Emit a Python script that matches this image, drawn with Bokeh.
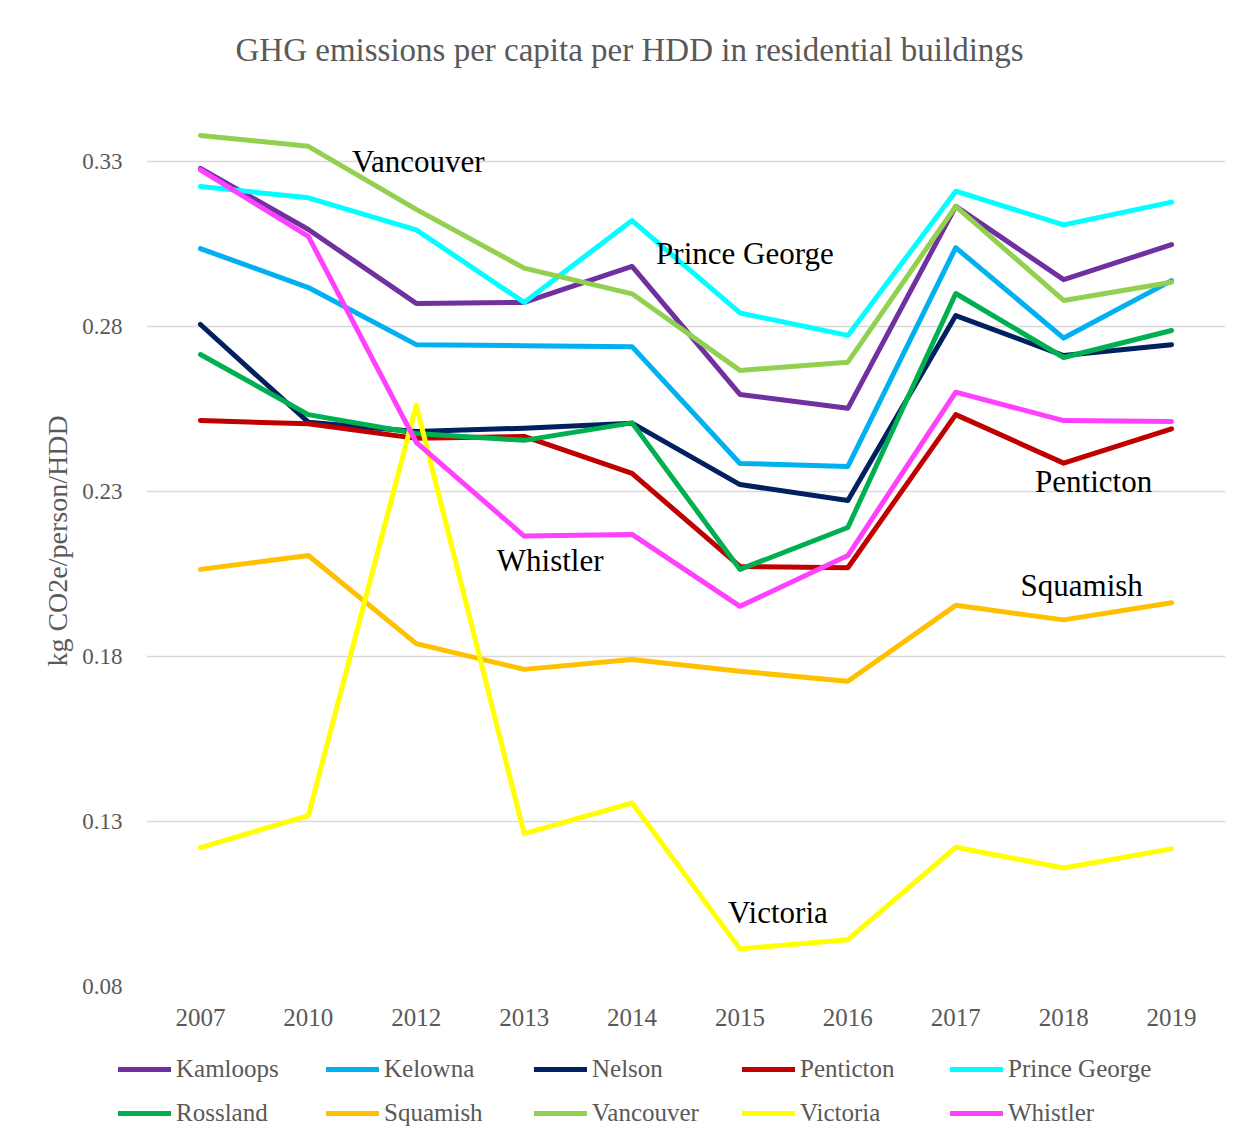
from bokeh.plotting import figure
from bokeh.models import Legend, LegendItem, Title, FixedTicker, Range1d, PrintfTickFormatter
from bokeh.embed import file_html
from bokeh.resources import INLINE
from bokeh.core.properties import value

years = ["2007", "2010", "2012", "2013", "2014", "2015", "2016", "2017", "2018", "2019"]

kamloops      = [0.3279, 0.3094, 0.2870, 0.2873, 0.2982, 0.2594, 0.2552, 0.3164, 0.2942, 0.3048]
kelowna       = [0.3036, 0.2918, 0.2745, 0.2742, 0.2739, 0.2385, 0.2376, 0.3039, 0.2765, 0.2939]
nelson        = [0.2806, 0.2510, 0.2482, 0.2492, 0.2507, 0.2321, 0.2273, 0.2833, 0.2712, 0.2745]
penticton     = [0.2515, 0.2505, 0.2461, 0.2467, 0.2355, 0.2073, 0.2069, 0.2533, 0.2386, 0.2490]
prince_george = [0.3224, 0.3190, 0.3093, 0.2873, 0.3121, 0.2841, 0.2773, 0.3210, 0.3108, 0.3177]
rossland      = [0.2715, 0.2533, 0.2476, 0.2455, 0.2508, 0.2064, 0.2191, 0.2900, 0.2706, 0.2788]
squamish      = [0.2064, 0.2106, 0.1839, 0.1761, 0.1791, 0.1755, 0.1725, 0.1955, 0.1911, 0.1963]
vancouver     = [0.3379, 0.3346, 0.3155, 0.2977, 0.2899, 0.2667, 0.2692, 0.3164, 0.2879, 0.2934]
victoria      = [0.1221, 0.1318, 0.2561, 0.1263, 0.1356, 0.0914, 0.0942, 0.1222, 0.1159, 0.1217]
whistler      = [0.3275, 0.3073, 0.2449, 0.2165, 0.2170, 0.1952, 0.2106, 0.2601, 0.2515, 0.2512]

series_names = ["Kamloops", "Kelowna", "Nelson", "Penticton", "Prince George",
                "Rossland", "Squamish", "Vancouver", "Victoria", "Whistler"]
series_values = [kamloops, kelowna, nelson, penticton, prince_george,
                 rossland, squamish, vancouver, victoria, whistler]
series_colors = ["#7030A0", "#00B0F0", "#002060", "#C00000", "#00FFFF",
                 "#00B050", "#FFC000", "#92D050", "#FFFF00", "#FF40FF"]

y_ticks = [0.08, 0.13, 0.18, 0.23, 0.28, 0.33]

ann_labels = ["Vancouver", "Prince George", "Whistler", "Penticton", "Squamish", "Victoria"]
ann_x = [2.519, 5.546, 3.741, 8.778, 8.667, 5.852]
ann_y = [0.3300, 0.3021, 0.2091, 0.2330, 0.2015, 0.1024]

FONT = "Liberation Serif"
GRAY = "#595959"

xs = [i + 0.5 for i in range(len(years))]

p = figure(width=1253, height=1040, x_range=Range1d(0, len(years)), y_range=Range1d(0.08, 0.35),
           output_backend="svg", toolbar_location=None,
           min_border_left=146, min_border_right=28, min_border_top=95, min_border_bottom=54)
p.outline_line_color = None
p.background_fill_color = "white"

# axes
p.xaxis.ticker = FixedTicker(ticks=xs)
p.xaxis.major_label_overrides = {x: y for x, y in zip(xs, years)}
p.xaxis.axis_line_color = None
p.xaxis.major_tick_line_color = None
p.xaxis.minor_tick_line_color = None
p.xaxis.major_label_standoff = 16
p.xaxis.major_label_text_font = FONT
p.xaxis.major_label_text_font_size = "25px"
p.xaxis.major_label_text_color = GRAY

p.yaxis.ticker = FixedTicker(ticks=y_ticks)
p.yaxis.formatter = PrintfTickFormatter(format="%.2f")
p.yaxis.axis_line_color = None
p.yaxis.major_tick_line_color = None
p.yaxis.minor_tick_line_color = None
p.yaxis.major_label_standoff = 18
p.yaxis.major_label_text_font = FONT
p.yaxis.major_label_text_font_size = "23px"
p.yaxis.major_label_text_color = GRAY
p.yaxis.axis_label = "kg CO2e/person/HDD"
p.yaxis.axis_label_text_font = FONT
p.yaxis.axis_label_text_font_size = "28px"
p.yaxis.axis_label_text_font_style = "normal"
p.yaxis.axis_label_text_color = GRAY
p.yaxis.axis_label_standoff = 6

p.xgrid.grid_line_color = None
p.ygrid.ticker = FixedTicker(ticks=y_ticks)
p.ygrid.grid_line_color = "#D9D9D9"
p.ygrid.grid_line_width = 1.5

for name, vals, col in zip(series_names, series_values, series_colors):
    p.line(xs, vals, line_color=col, line_width=5, line_cap="round", line_join="round")

p.text(x=ann_x, y=ann_y, text=ann_labels, text_font=value(FONT), text_font_size="31px",
       text_color="black", text_align="center", text_baseline="middle")

title = Title(text="GHG emissions per capita per HDD in residential buildings",
              align="left", offset=89, standoff=56,
              text_font=FONT, text_font_size="33px", text_color=GRAY, text_font_style="normal")
p.add_layout(title, "above")

# legend strip below the chart (separate root so its frame spans the full width)
pl = figure(width=1253, height=105, x_range=Range1d(0, 1), y_range=Range1d(0, 1),
            output_backend="svg", toolbar_location=None, title=None,
            x_axis_location=None, y_axis_location=None, min_border=0)
pl.outline_line_color = None
pl.grid.visible = False

items = []
for name, col in zip(series_names, series_colors):
    # line kept outside the visible range: only its legend swatch is shown
    r = pl.line(x=[-5, -4], y=[-5, -4], line_color=col, line_width=5, line_cap="round")
    items.append(LegendItem(label=name, renderers=[r]))

def make_legend(its, loc):
    return Legend(items=its, orientation="horizontal", location=loc,
                  glyph_width=53, glyph_height=24, label_height=24, label_width=150,
                  label_standoff=5, spacing=0, padding=0, margin=0,
                  border_line_color=None, background_fill_alpha=0,
                  label_text_font=FONT, label_text_font_size="25px", label_text_color=GRAY)

pl.add_layout(make_legend(items[:5], (118, 62)))
pl.add_layout(make_legend(items[5:], (118, 18)))

open("out.html", "w").write(file_html([p, pl], INLINE))
